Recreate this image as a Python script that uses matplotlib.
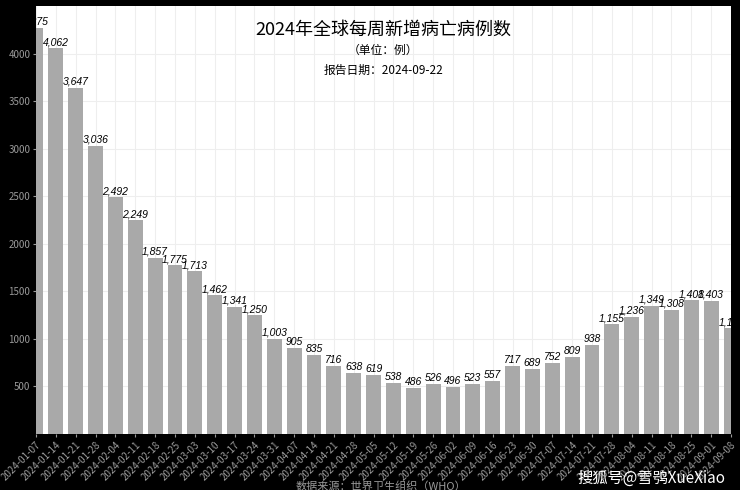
import matplotlib
matplotlib.use("Agg")
import matplotlib.pyplot as plt
import numpy as np

plt.rcParams['font.family'] = ['Noto Sans CJK SC', 'DejaVu Sans']

weeks = ["2024-01-07", "2024-01-14", "2024-01-21", "2024-01-28", "2024-02-04", "2024-02-11",
         "2024-02-18", "2024-02-25", "2024-03-03", "2024-03-10", "2024-03-17", "2024-03-24",
         "2024-03-31", "2024-04-07", "2024-04-14", "2024-04-21", "2024-04-28", "2024-05-05",
         "2024-05-12", "2024-05-19", "2024-05-26", "2024-06-02", "2024-06-09", "2024-06-16",
         "2024-06-23", "2024-06-30", "2024-07-07", "2024-07-14", "2024-07-21", "2024-07-28",
         "2024-08-04", "2024-08-11", "2024-08-18", "2024-08-25", "2024-09-01", "2024-09-08"]
deaths = [4275, 4062, 3647, 3036, 2492, 2249, 1857, 1775, 1713, 1462, 1341, 1250,
          1003, 905, 835, 716, 638, 619, 538, 486, 526, 496, 523, 557,
          717, 689, 752, 809, 938, 1155, 1236, 1349, 1308, 1408, 1403, 1116]
yticks = [500, 1000, 1500, 2000, 2500, 3000, 3500, 4000]

fig = plt.figure(figsize=(7.4, 4.9), dpi=100, facecolor='black')
ax = fig.add_axes([36/740, 1-434/490, (731-36)/740, (434-6)/490])
ax.set_facecolor('white')

x = np.arange(len(weeks))
ax.bar(x, deaths, width=0.75, color='#a9a9a9', zorder=2)
for xi, v in zip(x, deaths):
    ax.text(xi, v + 10, f"{v:,}", ha='center', va='bottom', fontsize=7.5,
            style='italic', color='black', zorder=3, family=['Liberation Sans'])

ax.set_xlim(0, len(weeks) - 1)
ax.set_ylim(0, 4505)
ax.set_xticks(x)
ax.set_xticklabels(weeks, rotation=45, ha='right', rotation_mode='anchor',
                   fontsize=7, color='#9a9a9a')
ax.set_yticks(yticks)
ax.set_yticklabels([str(t) for t in yticks], fontsize=7, color='#9a9a9a')
ax.set_yticks([500 * i for i in range(10)], minor=False) if False else None
ax.tick_params(axis='both', length=2, color='#9a9a9a', pad=2)
ax.grid(True, color='#eeeeee', linewidth=0.8, zorder=0)
for s in ax.spines.values():
    s.set_visible(False)

ax.text(0.5, 0.944, "2024年全球每周新增病亡病例数", transform=ax.transAxes,
        ha='center', va='center', fontsize=13, color='black')
ax.text(0.5, 0.897, "（单位：例）", transform=ax.transAxes,
        ha='center', va='center', fontsize=8.5, color='black')
ax.text(0.5, 0.850, "报告日期：2024-09-22", transform=ax.transAxes,
        ha='center', va='center', fontsize=8.5, color='black')

fig.text(381/740, 1-487/490, "数据来源：世界卫生组织（WHO）", ha='center', va='center',
         fontsize=8, color='#9a9a9a')
fig.text(725/740, 1-478/490, "搜狐号@雪鸮XueXiao", ha='right', va='center',
         fontsize=11, color='white')

fig.savefig("out.png", dpi=100, facecolor='black')
